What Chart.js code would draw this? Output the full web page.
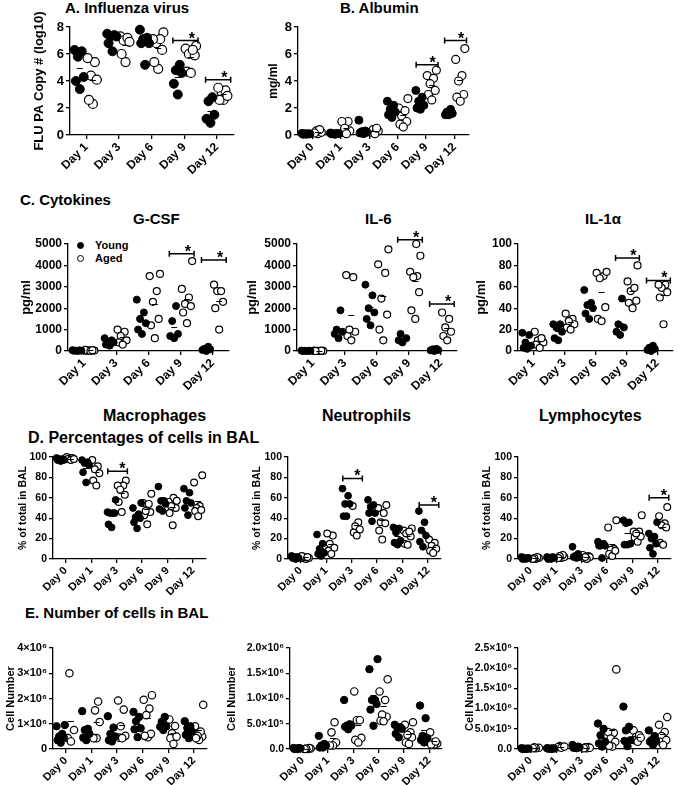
<!DOCTYPE html>
<html lang="en">
<head>
<meta charset="UTF-8">
<title>Influenza infection in young and aged mice</title>
<script src="https://cdn.jsdelivr.net/npm/chart.js"></script>
<style>
  body { margin: 0; background: #fff; font-family: 'Liberation Sans', Arial, sans-serif; color: #000; }
  #fig { position: relative; width: 680px; height: 785px; overflow: hidden; background: #fff; }
  .lbl { position: absolute; font-weight: bold; white-space: nowrap; line-height: 1; }
  .panel { position: absolute; }
  .dot { position: absolute; width: 7px; height: 7px; border-radius: 50%; border: 1.2px solid #000; box-sizing: border-box; }
</style>
</head>
<body>
<div id="fig">
  <div class="lbl" style="left:65px;top:0px;font-size:15px">A. Influenza virus</div>
  <div class="lbl" style="left:340px;top:0px;font-size:15px">B. Albumin</div>
  <div class="lbl" style="left:20px;top:192px;font-size:15px">C. Cytokines</div>
  <div class="lbl" style="left:133px;top:211px;font-size:15px">G-CSF</div>
  <div class="lbl" style="left:365px;top:211px;font-size:15px">IL-6</div>
  <div class="lbl" style="left:585px;top:211px;font-size:15px">IL-1&alpha;</div>
  <div class="lbl" style="left:103px;top:408px;font-size:16px">Macrophages</div>
  <div class="lbl" style="left:322px;top:408px;font-size:16px">Neutrophils</div>
  <div class="lbl" style="left:539px;top:408px;font-size:16px">Lymphocytes</div>
  <div class="lbl" style="left:28px;top:430px;font-size:16px">D. Percentages of cells in BAL</div>
  <div class="lbl" style="left:25px;top:605px;font-size:15px">E. Number of cells in BAL</div>

  <div class="dot" style="left:77px;top:242px;background:#000"></div>
  <div class="lbl" style="left:95px;top:240px;font-size:11px">Young</div>
  <div class="dot" style="left:77px;top:255px;background:#fff"></div>
  <div class="lbl" style="left:95px;top:253px;font-size:11px">Aged</div>
</div>

<script>
// ---- values ----
const days5 = ['Day 1', 'Day 3', 'Day 6', 'Day 9', 'Day 12'];
const days6 = ['Day 0', 'Day 1', 'Day 3', 'Day 6', 'Day 9', 'Day 12'];

// A. influenza virus, log10 copies
const fluYoung = [[6.3, 5.8, 6.2, 4.3, 4.0, 3.4], [7.3, 7.5, 7.3, 7.4, 6.2, 6.8], [6.8, 7.1, 7.8, 6.8, 7.2, 5.2], [5.2, 4.6, 4.8, 3.8, 3.0], [2.8, 2.5, 1.5, 0.9, 1.2]];
const fluAged = [[5.4, 5.7, 4.4, 4.1, 2.3, 2.6], [7.3, 7.0, 7.2, 6.9, 5.4, 6.0], [7.6, 6.8, 7.1, 7.1, 6.3, 4.9, 5.4], [6.6, 6.4, 6.0, 5.9, 6.3, 4.7, 4.6], [3.2, 3.3, 3.5, 2.6, 2.6, 2.9]];
const fluStars = [[3, 7.0], [4, 4.1]];

// B. albumin, mg/ml
const albYoung = [[0.05, 0.1, 0.08, 0.05, 0.12, 0.1], [0.1, 0.05, 0.15, 0.1, 0.08, 0.12], [0.1, 0.2, 0.3, 0.15, 1.1, 0.25], [2.2, 1.9, 1.7, 1.5, 1.3, 2.5], [3.3, 2.8, 2.2, 2.0, 1.9, 2.5], [1.9, 1.7, 1.6, 1.5, 1.5]];
const albAged = [[0.1, 0.2, 0.3, 0.4, 0.15], [1.0, 1.0, 0.3, 0.2, 0.5, 0.1], [0.3, 0.2, 0.4, 0.1, 0.5], [2.7, 2.0, 1.4, 1.0, 0.8, 0.6, 1.8], [4.8, 4.4, 4.2, 3.8, 3.3, 3.0, 2.6], [6.4, 5.6, 4.4, 4.0, 3.0, 2.8, 2.5]];
const albStars = [[4, 5.2], [5, 7.0]];

// C. cytokines, pg/ml
const gcsfYoung = [[20, 10, 30, 0, 15, 40], [300, 500, 450, 600, 400, 250], [2400, 1800, 1500, 1300, 1000, 800], [2100, 800, 600, 700, 1400], [100, 50, 200, 0, 80]];
const gcsfAged = [[30, 10, 50, 20, 0, 40], [900, 700, 500, 400, 300, 1000], [3500, 3600, 2800, 2300, 1500, 1200, 600], [4200, 2900, 2500, 2200, 2100, 1800, 1300], [3100, 2800, 2800, 2300, 1000, 2000]];
const gcsfStars = [[3, 4550], [4, 4250]];

const il6Young = [[10, 0, 20, 5, 15, 0], [800, 900, 1000, 1900, 600], [3100, 2600, 2000, 1800, 1500, 1200], [500, 400, 800, 600], [50, 100, 0, 80, 30]];
const il6Aged = [[0, 10, 20, 5, 15, 0], [3450, 3550, 900, 700, 500, 1000], [4750, 4050, 3650, 2450, 1700, 1000, 500], [5000, 4450, 3500, 3700, 3450, 2750, 1900, 1500], [1800, 1500, 1100, 900, 700, 500]];
const il6Stars = [[3, 5200], [4, 2200]];

const il1Young = [[17, 15, 5, 3, 2, 8], [22, 25, 18, 12, 10, 25], [57, 45, 43, 40, 30, 35], [49, 25, 22, 18, 15], [3, 1, 0, 2, 5]];
const il1Aged = [[18, 10, 8, 6, 3, 12], [35, 30, 25, 22, 20, 28], [73, 70, 74, 68, 41, 30, 28], [80, 65, 56, 59, 47, 45, 40], [62, 59, 62, 50, 25, 55]];
const il1Stars = [[3, 87], [4, 66]];

// D. % of total cells in BAL
const macYoung = [[98, 97, 99, 96, 98, 97], [97, 92, 95, 94, 85, 75], [58, 45, 45, 45, 46, 31, 34], [50, 55, 41, 40, 36, 30, 44], [71, 57, 57, 47, 49, 54], [65, 69, 57, 55, 43, 50]];
const macAged = [[99, 100, 98, 99, 97, 98], [97, 91, 88, 84, 77, 72], [77, 72, 72, 68, 63, 56, 46], [64, 55, 54, 46, 43, 34, 47], [60, 56, 53, 50, 45, 33, 57, 52], [82, 75, 52, 50, 47, 42, 48]];
const macStars = [[2, 86]];

const neuYoung = [[1, 2, 0, 3, 1, 2], [24, 15, 6, 5, 3, 10], [69, 62, 54, 54, 42, 42], [58, 53, 45, 45, 37, 51], [31, 30, 18, 14, 16, 26], [47, 36, 28, 23, 17, 12]];
const neuAged = [[1, 0, 2, 3, 1, 2], [23, 25, 15, 11, 8, 5], [52, 36, 32, 29, 26, 23], [53, 50, 45, 36, 35, 28, 19], [30, 28, 25, 15, 14, 22, 27], [19, 16, 13, 10, 8, 6]];
const neuStars = [[2, 79], [5, 53]];

const lymYoung = [[1, 0, 2, 1, 0, 1], [1, 0, 2, 1, 0, 2], [12, 5, 3, 2, 1, 2], [13, 15, 17, 13, 1, 13], [38, 35, 15, 14, 14, 36], [36, 25, 22, 20, 15, 11, 5]];
const lymAged = [[1, 0, 2, 1, 0], [1, 2, 4, 3, 1], [3, 4, 2, 1, 0, 2], [38, 31, 10, 9, 5, 3, 8], [43, 27, 27, 21, 17, 22, 25], [51, 42, 35, 33, 31, 16, 14]];
const lymStars = [[5, 60]];

// E. number of cells in BAL
const totYoung = [[0.9e6, 0.95e6, 0.6e6, 0.5e6, 0.45e6, 0.25e6, 0.35e6], [1.5e6, 0.8e6, 0.75e6, 0.6e6, 0.35e6, 0.45e6], [1.3e6, 0.85e6, 0.5e6, 0.6e6, 0.35e6, 0.3e6], [1.1e6, 0.78e6, 1.47e6, 1.27e6, 0.47e6, 0.82e6], [1.27e6, 0.9e6, 0.75e6, 0.88e6, 1.08e6], [1.1e6, 0.83e6, 0.9e6, 0.56e6, 0.43e6, 0.69e6]];
const totAged = [[3.0e6, 0.75e6, 0.43e6, 0.3e6], [1.53e6, 1.88e6, 1.07e6, 0.43e6, 0.43e6], [1.56e6, 1.92e6, 0.9e6, 0.52e6, 0.45e6, 0.43e6], [1.95e6, 2.13e6, 1.6e6, 1.34e6, 0.47e6, 0.6e6, 0.52e6], [1.17e6, 0.62e6, 0.43e6, 0.49e6, 0.2e6, 0.91e6], [1.75e6, 0.9e6, 0.49e6, 0.69e6, 0.36e6, 0.52e6, 0.43e6]];

const neuNumYoung = [[0.01e6, 0.02e6, 0, 0.01e6, 0.02e6, 0], [0.26e6, 0.1e6, 0.03e6, 0.07e6, 0.03e6, 0.07e6], [0.97e6, 0.46e6, 0.39e6, 0.49e6, 0.46e6, 0.44e6], [1.78e6, 1.58e6, 0.89e6, 0.97e6, 0.97e6, 0.78e6, 0.46e6], [0.43e6, 0.43e6, 0.48e6, 0.23e6, 0.3e6, 0.4e6], [0.86e6, 0.61e6, 0.22e6, 0.26e6, 0.18e6, 0.13e6]];
const neuNumAged = [[0.01e6, 0, 0.02e6, 0.01e6, 0], [0.53e6, 0.33e6, 0.13e6, 0.07e6, 0.07e6], [0.57e6, 1.14e6, 0.57e6, 0.22e6, 0.18e6, 0.13e6], [1.38e6, 1.14e6, 0.97e6, 0.64e6, 0.68e6, 0.56e6, 0.55e6], [0.53e6, 0.48e6, 0.33e6, 0.23e6, 0.13e6, 0.1e6, 0.28e6], [0.33e6, 0.13e6, 0.11e6, 0.09e6, 0.09e6, 0.15e6]];

const lymNumYoung = [[0.01e6, 0, 0.02e6, 0.01e6, 0, 0.01e6], [0.01e6, 0.02e6, 0, 0.01e6, 0.02e6, 0.01e6], [0.1e6, 0.05e6, 0.03e6, 0.06e6, 0.02e6, 0.04e6], [0.5e6, 0.63e6, 0.18e6, 0.34e6, 0.06e6, 0.14e6], [1.05e6, 0.55e6, 0.46e6, 0.22e6, 0.07e6, 0.2e6], [0.46e6, 0.22e6, 0.32e6, 0.18e6, 0.1e6, 0.2e6]];
const lymNumAged = [[0.03e6, 0.02e6, 0.04e6, 0.02e6], [0.07e6, 0.05e6, 0.03e6, 0.06e6], [0.02e6, 0.05e6, 0.03e6, 0.04e6, 0.02e6], [1.97e6, 0.4e6, 0.42e6, 0.26e6, 0.18e6, 0.06e6, 0.08e6], [0.46e6, 0.3e6, 0.22e6, 0.18e6, 0.34e6, 0.28e6], [0.79e6, 0.6e6, 0.42e6, 0.32e6, 0.18e6, 0.22e6, 0.1e6]];

// ---- drawing ----
const FONT = "'Liberation Sans', Arial, sans-serif";
const sup = { 5: '\u2075', 6: '\u2076' };

function sciWhole(v) {
  return v === 0 ? '0' : (v / 1e6) + '\u00d710' + sup[6];
}
function sciOne(v) {
  if (v === 0) return '0.0';
  const e = v < 1e6 ? 5 : 6;
  return (v / Math.pow(10, e)).toFixed(1) + '\u00d710' + sup[e];
}

// spread each group sideways a little, neighbours in value go to alternate sides
const offsets = [0, -0.12, 0.12, -0.06, 0.06, -0.16, 0.16, 0.03];
function spread(vals, center) {
  const order = vals.map((v, k) => k).sort((a, b) => vals[a] - vals[b]);
  return vals.map((v, k) => ({ x: center + offsets[order.indexOf(k) % offsets.length], y: v }));
}

// mean dashes and significance brackets
function markersFor(p) {
  return {
    id: 'markers',
    afterDatasetsDraw(chart) {
      const { ctx, scales: { x, y } } = chart;
      ctx.save();
      ctx.strokeStyle = '#000';
      ctx.fillStyle = '#000';
      ctx.lineWidth = 1;
      [[p.young, -0.2], [p.aged, 0.2]].forEach(([groups, off]) => {
        groups.forEach((vals, i) => {
          const m = vals.reduce((a, b) => a + b, 0) / vals.length;
          const px = x.getPixelForValue(i + off), py = Math.round(y.getPixelForValue(m)) + 0.5;
          ctx.beginPath();
          ctx.moveTo(px - 3, py);
          ctx.lineTo(px + 3, py);
          ctx.stroke();
        });
      });
      ctx.lineWidth = 1.5;
      ctx.font = 'bold 16px ' + FONT;
      ctx.textAlign = 'center';
      p.stars.forEach(([i, level]) => {
        const x0 = x.getPixelForValue(i - 0.35), x1 = x.getPixelForValue(i + 0.42);
        const py = y.getPixelForValue(level);
        ctx.beginPath();
        ctx.moveTo(x0, py - 3); ctx.lineTo(x0, py + 3);
        ctx.moveTo(x0, py); ctx.lineTo(x1, py);
        ctx.moveTo(x1, py - 3); ctx.lineTo(x1, py + 3);
        ctx.stroke();
        ctx.fillText('*', x0 + (x1 - x0) * 0.75, py + 3);
      });
      ctx.restore();
    }
  };
}

const panels = [
  { days: days5, young: fluYoung, aged: fluAged, stars: fluStars, min: 0, max: 8, step: 2, fmt: v => v,
    yTitle: 'FLU PA Copy # (log10)', L: 70, R: 235, T: 27, B: 135, pt: 22, yw: 42, xh: 45, r: 4.5, tick: 13, xtick: 12, ttl: 13 },
  { days: days6, young: albYoung, aged: albAged, stars: albStars, min: 0, max: 8, step: 2, fmt: v => v,
    yTitle: 'mg/ml', L: 298, R: 470, T: 27, B: 135, pt: 10, yw: 36, xh: 45, r: 4, tick: 13, xtick: 12, ttl: 12 },
  { days: days5, young: gcsfYoung, aged: gcsfAged, stars: gcsfStars, min: 0, max: 5000, step: 1000, fmt: v => v,
    yTitle: 'pg/ml', L: 68, R: 230, T: 244, B: 351, pt: 10, yw: 53, xh: 45, r: 3.5, tick: 12, xtick: 12, ttl: 13 },
  { days: days5, young: il6Young, aged: il6Aged, stars: il6Stars, min: 0, max: 5000, step: 1000, fmt: v => v,
    yTitle: 'pg/ml', L: 297, R: 458, T: 244, B: 351, pt: 22, yw: 56, xh: 45, r: 3.5, tick: 12, xtick: 12, ttl: 13 },
  { days: days5, young: il1Young, aged: il1Aged, stars: il1Stars, min: 0, max: 100, step: 20, fmt: v => v,
    yTitle: 'pg/ml', L: 518, R: 674, T: 244, B: 351, pt: 10, yw: 48, xh: 45, r: 3.5, tick: 12, xtick: 12, ttl: 13 },
  { days: days6, young: macYoung, aged: macAged, stars: macStars, min: 0, max: 100, step: 20, fmt: v => v,
    yTitle: '% of total in BAL', L: 53, R: 207, T: 457, B: 559, pt: 10, yw: 40, xh: 45, r: 3.4, tick: 10.5, xtick: 11, ttl: 10.5 },
  { days: days6, young: neuYoung, aged: neuAged, stars: neuStars, min: 0, max: 100, step: 20, fmt: v => v,
    yTitle: '% of total in BAL', L: 288, R: 442, T: 457, B: 559, pt: 10, yw: 41, xh: 45, r: 3.4, tick: 10.5, xtick: 11, ttl: 10.5 },
  { days: days6, young: lymYoung, aged: lymAged, stars: lymStars, min: 0, max: 100, step: 20, fmt: v => v,
    yTitle: '% of total in BAL', L: 518, R: 672, T: 457, B: 559, pt: 10, yw: 41, xh: 45, r: 3.4, tick: 10.5, xtick: 11, ttl: 10.5 },
  { days: days6, young: totYoung, aged: totAged, stars: [], min: 0, max: 4e6, step: 1e6, fmt: sciWhole,
    yTitle: 'Cell Number', L: 53, R: 208, T: 648, B: 749, pt: 10, yw: 53, xh: 36, r: 3.7, tick: 11, xtick: 11, ttl: 11 },
  { days: days6, young: neuNumYoung, aged: neuNumAged, stars: [], min: 0, max: 2e6, step: 5e5, fmt: sciOne,
    yTitle: 'Cell Number', L: 290, R: 443, T: 648, B: 749, pt: 10, yw: 69, xh: 36, r: 3.7, tick: 10.5, xtick: 11, ttl: 11 },
  { days: days6, young: lymNumYoung, aged: lymNumAged, stars: [], min: 0, max: 2.5e6, step: 5e5, fmt: sciOne,
    yTitle: 'Cell Number', L: 518, R: 672, T: 648, B: 749, pt: 10, yw: 59, xh: 36, r: 3.7, tick: 10.5, xtick: 11, ttl: 11 }
];

const fig = document.getElementById('fig');
panels.forEach(p => {
  const padTop = p.pt, padRight = 4;
  const canvas = document.createElement('canvas');
  canvas.className = 'panel';
  canvas.width = p.yw + (p.R - p.L) + padRight;
  canvas.height = padTop + (p.B - p.T) + p.xh;
  canvas.style.left = (p.L - p.yw) + 'px';
  canvas.style.top = (p.T - padTop) + 'px';
  fig.appendChild(canvas);

  const young = [], aged = [];
  p.young.forEach((vals, i) => young.push(...spread(vals, i - 0.2)));
  p.aged.forEach((vals, i) => aged.push(...spread(vals, i + 0.2)));

  const axisGrid = { drawOnChartArea: false, color: '#000', lineWidth: 1.3, tickLength: 4 };
  const axisBorder = { color: '#000', width: 1.3 };

  new Chart(canvas, {
    type: 'scatter',
    data: {
      datasets: [
        { label: 'Young', data: young, clip: false, pointRadius: p.r, pointBackgroundColor: '#000', pointBorderColor: '#000', pointBorderWidth: 1 },
        { label: 'Aged', data: aged, clip: false, pointRadius: p.r, pointBackgroundColor: '#fff', pointBorderColor: '#000', pointBorderWidth: 1.2 }
      ]
    },
    options: {
      responsive: false,
      animation: false,
      devicePixelRatio: 1,
      events: [],
      layout: { padding: { top: padTop, right: padRight, left: 0, bottom: 0 } },
      plugins: { legend: { display: false }, tooltip: { enabled: false } },
      scales: {
        x: {
          type: 'linear',
          min: -0.5,
          max: p.days.length - 0.5,
          afterBuildTicks: s => { s.ticks = p.days.map((d, i) => ({ value: i })); },
          afterFit: s => { s.height = p.xh; },
          grid: axisGrid,
          border: axisBorder,
          ticks: {
            autoSkip: false, maxRotation: 45, minRotation: 45, padding: 1, color: '#000',
            font: { family: FONT, size: p.xtick, weight: 'bold' },
            callback: v => p.days[v]
          }
        },
        y: {
          min: p.min,
          max: p.max,
          afterFit: s => { s.width = p.yw; },
          grid: axisGrid,
          border: axisBorder,
          ticks: {
            stepSize: p.step, padding: 2, color: '#000',
            font: { family: FONT, size: p.tick, weight: 'bold' },
            callback: p.fmt
          },
          title: {
            display: true, text: p.yTitle, color: '#000', padding: { top: 4, bottom: 2 },
            font: { family: FONT, size: p.ttl, weight: 'bold' }
          }
        }
      }
    },
    plugins: [markersFor(p)]
  });
});
</script>
</body>
</html>
